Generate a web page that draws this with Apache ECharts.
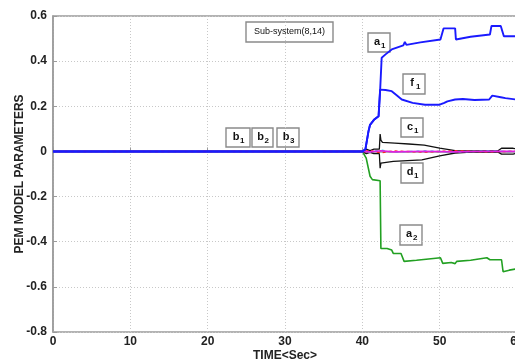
<!DOCTYPE html>
<html>
<head>
<meta charset="utf-8">
<script src="https://cdn.jsdelivr.net/npm/echarts@6/dist/echarts.min.js"></script>
<style>html,body{margin:0;padding:0;background:#fff}#c{width:515px;height:362px}</style>
</head>
<body>
<div id="c"></div>
<script>
// ---- data: [time (s), parameter value] ----
const xTicks = [0, 10, 20, 30, 40, 50, 60];
const yTicks = [-0.8, -0.6, -0.4, -0.2, 0, 0.2, 0.4, 0.6];

const a1 = [[0,0],[40,0],[40.4,0.01],[40.8,0.09],[41.0,0.118],[41.5,0.14],[42.1,0.156],[42.3,0.27],[42.5,0.415],[43.0,0.43],[43.8,0.452],[45.3,0.47],[45.5,0.485],[45.7,0.472],[47.5,0.483],[50.1,0.496],[50.5,0.545],[52.0,0.545],[52.1,0.496],[54.0,0.508],[56.5,0.518],[56.7,0.556],[57.9,0.556],[58.3,0.51],[59.0,0.51],[60,0.51]];
const f1 = [[0,0],[40,0],[40.4,0.01],[40.8,0.09],[41.0,0.118],[41.5,0.14],[42.1,0.156],[42.3,0.274],[43.0,0.272],[43.8,0.267],[44.4,0.25],[45.1,0.23],[46.5,0.215],[48.1,0.207],[50.0,0.207],[50.6,0.215],[51.0,0.222],[52.0,0.23],[53.0,0.232],[54.5,0.228],[56.4,0.23],[56.8,0.247],[57.9,0.24],[58.5,0.236],[59.9,0.23],[60,0.23]];
const a2 = [[0,0],[40,0],[40.5,-0.03],[41.0,-0.11],[41.3,-0.125],[42.3,-0.13],[42.4,-0.43],[43.2,-0.43],[43.8,-0.437],[44.0,-0.452],[45.0,-0.452],[45.4,-0.487],[47.0,-0.482],[49.5,-0.473],[50.1,-0.471],[50.4,-0.496],[51.5,-0.492],[52.0,-0.497],[52.2,-0.487],[54.0,-0.482],[56.1,-0.471],[56.5,-0.48],[58.0,-0.48],[58.2,-0.533],[59.0,-0.526],[60,-0.52]];
const c1 = [[0,0],[40,0],[40.5,0.01],[41.0,0.004],[41.5,0.01],[42.2,0.01],[42.3,0.077],[42.4,0.05],[42.6,0.04],[44.2,0.037],[46.0,0.033],[48.0,0.028],[50.0,0.015],[52.0,0.004],[54.0,0.002],[57.5,0.002],[58.0,0.014],[59.5,0.014],[60,0.01]];
const d1 = [[0,0],[40,0],[40.5,-0.01],[41.0,-0.004],[41.5,-0.01],[42.2,-0.01],[42.3,-0.074],[42.4,-0.052],[42.6,-0.048],[44.0,-0.044],[47.7,-0.037],[50.0,-0.02],[52.0,-0.007],[54.0,-0.003],[57.5,-0.002],[58.0,-0.012],[59.5,-0.012],[60,-0.008]];
const b1 = [[0,0],[40,0],[41,-0.002],[42.4,0.003],[44,-0.002],[48,0.001],[52,-0.002],[56,0.001],[60,0]];
const b2 = [[0,0],[40,0],[41,0.004],[42.3,-0.006],[44,0.002],[48,-0.003],[52,0.003],[56,-0.002],[60,0.001]];
const b3 = [[0,0],[40,0],[41,-0.004],[42.3,0.006],[44,-0.003],[48,0.002],[52,-0.003],[56,0.002],[60,-0.001]];

const chart = echarts.init(document.getElementById('c'));
const FONT = '"Liberation Sans", Arial, sans-serif';

function box(x, y, w, h, main, sub, fs) {
  const children = [
    {type:'rect', shape:{x:0, y:0, width:w, height:h}, style:{fill:'#fff', stroke:'#8a8a8a', lineWidth:1.4}},
  ];
  if (sub) {
    children.push({type:'text', x:w/2 - 2, y:h/2 - 1, style:{text:main, font:'bold 11px ' + FONT, fill:'#111', align:'center', verticalAlign:'middle'}});
    children.push({type:'text', x:w/2 + 2, y:h/2 + 3, style:{text:sub, font:'bold 8px ' + FONT, fill:'#111', align:'left', verticalAlign:'middle'}});
  } else {
    children.push({type:'text', x:w/2, y:h/2, style:{text:main, font:(fs||9) + 'px ' + FONT, fill:'#111', align:'center', verticalAlign:'middle'}});
  }
  return {type:'group', x:x, y:y, z:100, children:children};
}

function line(name, data, color, width, type, z) {
  return {name:name, type:'line', data:data, showSymbol:false, symbol:'none', z:z||2,
    lineStyle:{color:color, width:width, type:type||'solid'}, animation:false};
}

chart.setOption({
  animation:false,
  grid:{left:53, top:16, width:464, height:316, outerBoundsMode:'none', containLabel:false,
    show:true, borderColor:'#9a9a9a', borderWidth:1.5, backgroundColor:'transparent'},
  xAxis:{type:'value', min:0, max:60, interval:10,
    name:'TIME<Sec>', nameLocation:'middle', nameGap:18, nameMoveOverlap:false,
    nameTextStyle:{fontFamily:FONT, fontWeight:'bold', fontSize:12, color:'#222'},
    axisLine:{show:true, lineStyle:{color:'#9a9a9a', width:1.5}},
    axisTick:{show:true, inside:true, length:4, lineStyle:{color:'#9a9a9a'}},
    axisLabel:{fontFamily:FONT, fontWeight:'bold', fontSize:12, color:'#222', margin:4,
      formatter:v => String(v)},
    splitLine:{show:true, lineStyle:{color:'#c8c8c8', type:[1,2], width:1}}},
  yAxis:{type:'value', min:-0.8, max:0.6, interval:0.2,
    name:'PEM MODEL PARAMETERS', nameLocation:'middle', nameGap:27, nameMoveOverlap:false,
    nameTextStyle:{fontFamily:FONT, fontWeight:'bold', fontSize:12, color:'#222'},
    axisLine:{show:true, lineStyle:{color:'#9a9a9a', width:1.5}},
    axisTick:{show:true, inside:true, length:4, lineStyle:{color:'#9a9a9a'}},
    axisLabel:{fontFamily:FONT, fontWeight:'bold', fontSize:12, color:'#222', margin:6,
      formatter:v => String(Math.round(v*10)/10)},
    splitLine:{show:true, lineStyle:{color:'#c8c8c8', type:[1,2], width:1}}},
  series:[
    line('a2', a2, '#22a022', 1.6, 'solid', 2),
    line('c1', c1, '#111111', 1.3, 'solid', 3),
    line('d1', d1, '#111111', 1.3, 'solid', 3),
    line('b2', b2, '#ff2020', 1.4, [3,3], 4),
    line('b3', b3, '#20c8e0', 1.4, [3,4], 4),
    line('b1', b1, '#e020e0', 1.6, 'solid', 5),
    line('f1', f1, '#1a1aff', 1.9, 'solid', 6),
    line('a1', a1, '#1a1aff', 1.9, 'solid', 6)
  ],
  graphic:[
    box(246, 22, 87, 20, 'Sub-system(8,14)', null, 9),
    box(368, 33, 22, 19, 'a', '1'),
    box(403, 74, 22, 20, 'f', '1'),
    box(401, 118, 22, 19, 'c', '1'),
    box(401, 163, 22, 20, 'd', '1'),
    box(400, 225, 22, 20, 'a', '2'),
    box(226, 128, 24, 19, 'b', '1'),
    box(252, 128, 21, 19, 'b', '2'),
    box(277, 128, 22, 19, 'b', '3')
  ]
});
</script>
</body>
</html>
